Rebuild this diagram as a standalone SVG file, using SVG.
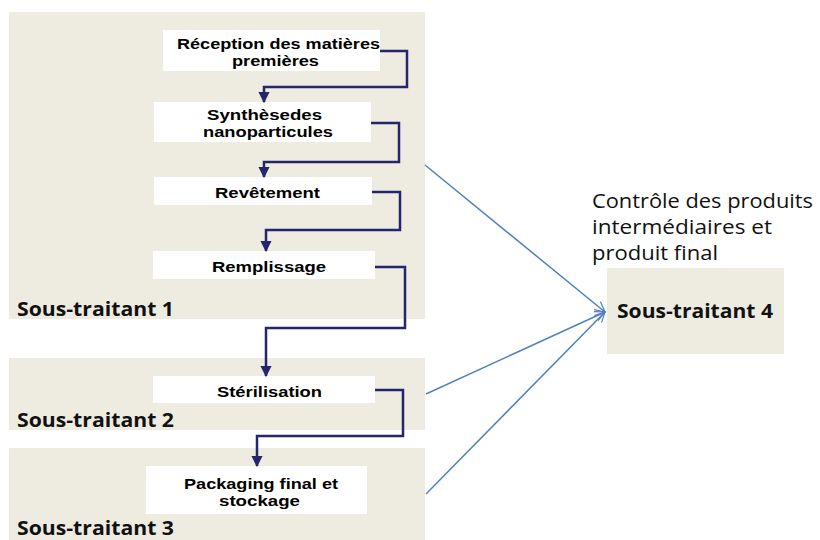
<svg xmlns="http://www.w3.org/2000/svg" width="820" height="540" viewBox="0 0 820 540">
<defs>
<style>
.panel{fill:#EEECE1}
.box{fill:#FFFFFF}
.bt{font-family:"Liberation Sans",Arial,sans-serif;font-weight:bold;font-size:15px;fill:#000;text-anchor:middle}
.lbl{font-family:"Open Sans","Noto Sans",sans-serif;font-weight:bold;font-size:20px;fill:#111}
.note{font-family:"Open Sans","Noto Sans",sans-serif;font-size:20px;fill:#111}
.flow{fill:none;stroke:#25256E;stroke-width:2.5;marker-end:url(#ah)}
.ctl{fill:none;stroke:#4F81BD;stroke-width:1.5;marker-end:url(#oa)}
</style>
<marker id="ah" viewBox="0 0 10 10" refX="9" refY="5" markerWidth="4.5" markerHeight="4.5" orient="auto" markerUnits="strokeWidth">
<path d="M0,0 L10,5 L0,10 z" fill="#25256E"/>
</marker>
<marker id="oa" viewBox="0 0 12 12" refX="11" refY="6" markerWidth="8" markerHeight="8" orient="auto" markerUnits="strokeWidth">
<path d="M1,1 L11,6 L1,11" fill="none" stroke="#4F81BD" stroke-width="1.2"/>
</marker>
</defs>
<rect width="820" height="540" fill="#FFFFFF"/>
<g id="sous-traitant-1"><rect class="panel" x="9" y="12" width="416" height="307"/><text class="lbl" x="17" y="316" textLength="157" lengthAdjust="spacingAndGlyphs">Sous-traitant 1</text></g>
<g id="sous-traitant-2"><rect class="panel" x="9" y="358" width="416" height="72"/><text class="lbl" x="17" y="427" textLength="157" lengthAdjust="spacingAndGlyphs">Sous-traitant 2</text></g>
<g id="sous-traitant-3"><rect class="panel" x="9" y="448" width="416" height="100"/><text class="lbl" x="17" y="535" textLength="157" lengthAdjust="spacingAndGlyphs">Sous-traitant 3</text></g>
<g id="sous-traitant-4"><rect class="panel" x="607" y="268" width="177" height="86"/><text class="lbl" x="617" y="318" textLength="156" lengthAdjust="spacingAndGlyphs">Sous-traitant 4</text>
<text class="note" x="592" y="208" textLength="221" lengthAdjust="spacingAndGlyphs">Contrôle des produits</text><text class="note" x="592" y="234" textLength="180" lengthAdjust="spacingAndGlyphs">intermédiaires et</text><text class="note" x="592" y="260" textLength="126" lengthAdjust="spacingAndGlyphs">produit final</text></g>
<g id="reception"><rect class="box" x="163" y="30" width="217" height="41"/><text class="bt" x="278.5" y="49" textLength="203" lengthAdjust="spacingAndGlyphs">Réception des matières</text><text class="bt" x="275.5" y="66" textLength="87" lengthAdjust="spacingAndGlyphs">premières</text></g>
<g id="synthese"><rect class="box" x="154" y="102" width="217" height="40"/><text class="bt" x="264.5" y="120" textLength="115" lengthAdjust="spacingAndGlyphs">Synthèsedes</text><text class="bt" x="268" y="137" textLength="130" lengthAdjust="spacingAndGlyphs">nanoparticules</text></g>
<g id="revetement"><rect class="box" x="154" y="177" width="218" height="28"/><text class="bt" x="267.5" y="198" textLength="105" lengthAdjust="spacingAndGlyphs">Revêtement</text></g>
<g id="remplissage"><rect class="box" x="153" y="251" width="222" height="28"/><text class="bt" x="269" y="272" textLength="114" lengthAdjust="spacingAndGlyphs">Remplissage</text></g>
<g id="sterilisation"><rect class="box" x="153" y="376" width="222" height="27"/><text class="bt" x="269.5" y="397" textLength="105" lengthAdjust="spacingAndGlyphs">Stérilisation</text></g>
<g id="packaging"><rect class="box" x="146" y="466" width="221" height="48"/><text class="bt" x="261" y="489" textLength="154" lengthAdjust="spacingAndGlyphs">Packaging final et</text><text class="bt" x="259.5" y="506" textLength="81" lengthAdjust="spacingAndGlyphs">stockage</text></g>
<g id="connectors">
<path class="flow" d="M380,51 H407 V87 H264 V102"/>
<path class="flow" d="M371,123 H399 V162 H264 V177"/>
<path class="flow" d="M372,192 H400 V230 H266 V251"/>
<path class="flow" d="M375,267 H405 V328 H266 V376"/>
<path class="flow" d="M375,390 H403 V436 H257 V466"/>
<path class="ctl" d="M425,165 L605,312"/>
<path class="ctl" d="M426,394 L605,312"/>
<path class="ctl" d="M426,494 L605,312"/>
</g>
</svg>
